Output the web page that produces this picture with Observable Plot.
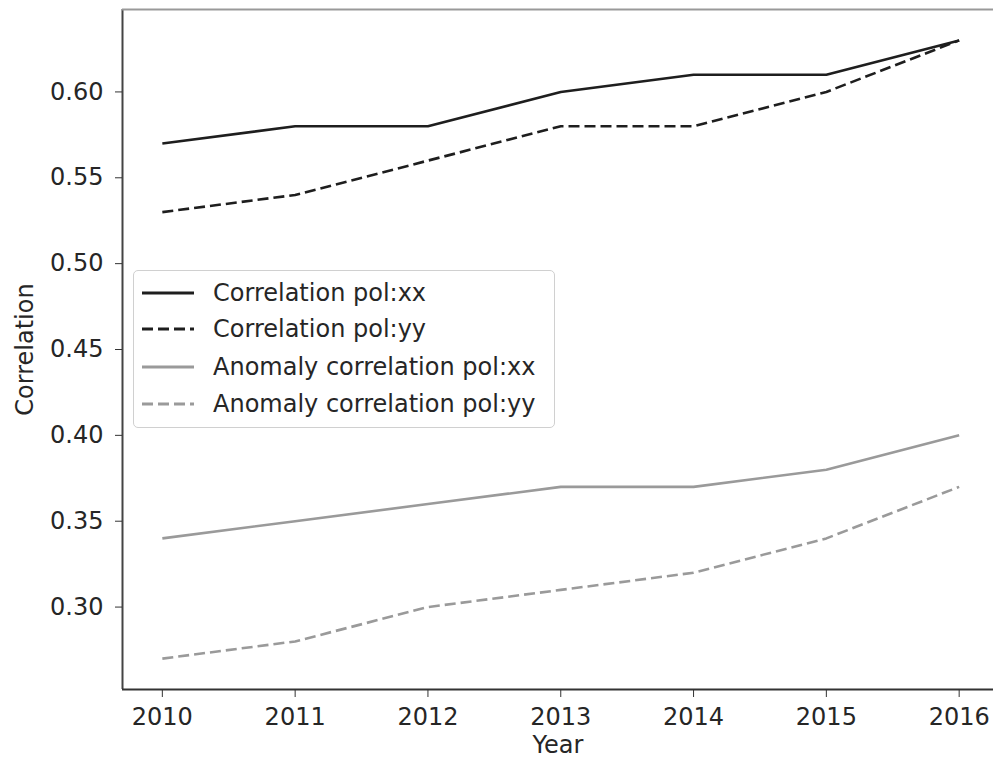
<!DOCTYPE html>
<html><head><meta charset="utf-8">
<script src="https://cdn.jsdelivr.net/npm/d3@7"></script>
<script src="https://cdn.jsdelivr.net/npm/@observablehq/plot@0.6"></script>
<style>
body{margin:0;background:#fff;font-family:"DejaVu Sans",sans-serif;}
#wrap{position:relative;width:993px;height:766px;overflow:hidden}
#legend{position:absolute;left:133px;top:270px;width:422px;height:158px;border:1.5px solid #d0d0d0;border-radius:5px;background:rgba(255,255,255,0.85);box-sizing:border-box}
.row{position:absolute;left:0;height:30px;display:flex;align-items:center}
.row svg{margin-left:8px}
.row span{margin-left:19px;font-size:24px;color:#262626;white-space:nowrap}
</style></head><body><div id="wrap"></div><script>
const years = [2010, 2011, 2012, 2013, 2014, 2015, 2016];
const corrXX = [0.57, 0.58, 0.58, 0.60, 0.61, 0.61, 0.63];
const corrYY = [0.53, 0.54, 0.56, 0.58, 0.58, 0.60, 0.63];
const anomXX = [0.34, 0.35, 0.36, 0.37, 0.37, 0.38, 0.40];
const anomYY = [0.27, 0.28, 0.30, 0.31, 0.32, 0.34, 0.37];
const seriesNames = ["Correlation pol:xx", "Correlation pol:yy", "Anomaly correlation pol:xx", "Anomaly correlation pol:yy"];
const yTicks = [0.30, 0.35, 0.40, 0.45, 0.50, 0.55, 0.60];

const dark = "#1e1e1e", grey = "#9a9a9a";
const styles = [
  {stroke: dark, dash: null},
  {stroke: dark, dash: "11,5"},
  {stroke: grey, dash: null},
  {stroke: grey, dash: "11,5"}
];
const seriesVals = [corrXX, corrYY, anomXX, anomYY];
const tables = seriesVals.map(v => years.map((y, i) => ({year: y, value: v[i]})));

const allVals = seriesVals.flat();
const yMin = d3.min(allVals), yMax = d3.max(allVals);
const yPad = (yMax - yMin) * 0.05;
const xPad = (d3.max(years) - d3.min(years)) * 0.05;
const xDom = [d3.min(years) - xPad, d3.max(years) + xPad];
const yDom = [yMin - yPad, yMax + yPad];
const FS = 24;

const chart = Plot.plot({
  width: 993, height: 766,
  marginLeft: 122, marginTop: 9, marginBottom: 77, marginRight: 0,
  style: {fontFamily: "DejaVu Sans, sans-serif", fontSize: FS + "px", color: "#262626", background: "white", overflow: "visible"},
  x: {domain: xDom, range: [122, 998.5]},
  y: {domain: yDom},
  marks: [
    ...tables.map((t, i) => Plot.line(t, {x: "year", y: "value", stroke: styles[i].stroke, strokeWidth: 2.6, strokeDasharray: styles[i].dash, strokeLinejoin: "round", strokeLinecap: "butt"})),
    Plot.ruleX([xDom[0]], {stroke: "#444", strokeWidth: 2}),
    Plot.ruleY([yDom[0]], {stroke: "#333", strokeWidth: 2}),
    Plot.ruleY([yDom[1]], {stroke: "#999", strokeWidth: 2}),
    Plot.axisX({ticks: years, tickFormat: d => String(d), tickSize: 8, tickPadding: 10, label: null, fontSize: FS, stroke: "#333"}),
    Plot.axisY({ticks: yTicks, tickFormat: d3.format(".2f"), tickSize: 7, tickPadding: 12, label: null, fontSize: FS, stroke: "#333"}),
    Plot.text(["Year"], {frameAnchor: "bottom", textAnchor: "middle", dy: 63, fontSize: FS, fill: "#262626"}),
    Plot.text(["Correlation"], {frameAnchor: "left", textAnchor: "middle", dx: -97, rotate: -90, fontSize: FS, fill: "#262626"})
  ]
});
const wrap = document.getElementById("wrap");
wrap.appendChild(chart);

const legend = document.createElement("div");
legend.id = "legend";
const rowTops = [7, 43, 81, 118];
seriesNames.forEach((name, i) => {
  const row = document.createElement("div");
  row.className = "row";
  row.style.top = rowTops[i] + "px";
  row.innerHTML = `<svg width="52" height="10"><line x1="0" x2="52" y1="5" y2="5" stroke="${styles[i].stroke}" stroke-width="3" ${styles[i].dash ? `stroke-dasharray="11,5"` : ""}/></svg><span>${name}</span>`;
  legend.appendChild(row);
});
wrap.appendChild(legend);
</script></body></html>
